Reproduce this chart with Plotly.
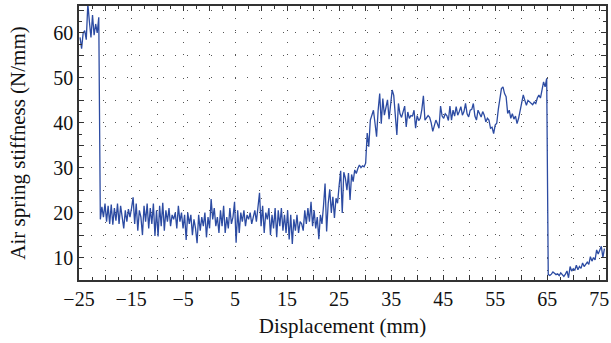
import numpy as np
import plotly.graph_objects as go

# Sampling grid of the measurement (displacement in mm)
x_start = -24.8
x_step = 0.3

# Air spring stiffness (N/mm), in sample order
stiffness = [
    # -24.8 .. -21.2
    59.0, 56.5, 60.0, 60.5, 58.5, 66.5, 62.5, 59.0, 64.0, 59.5, 62.0, 60.0, 63.5,
    # -20.9 ..
    18.5, 21.3, 19.0, 22.0, 18.0, 21.5, 17.5, 21.8, 17.3, 21.0,
    18.2, 22.0, 17.5, 21.5, 19.0, 16.5, 20.5, 18.0, 20.8, 19.0,
    21.0, 23.4, 17.5, 22.0, 16.0, 20.5, 19.0, 15.0, 21.5, 18.0,
    22.0, 16.5, 21.0, 17.5, 22.0, 14.8, 20.5, 14.7, 21.5, 17.0,
    22.2, 16.0, 20.5, 18.0, 21.0, 17.0, 19.5, 18.5, 20.0, 16.5,
    21.5, 18.0, 20.0, 16.5, 19.5, 13.9, 20.0, 17.5, 19.5, 15.0,
    18.5, 16.5, 13.2, 19.5, 16.0, 19.0, 17.0, 20.0, 14.5, 19.0,
    16.5, 23.0, 18.5, 21.0, 17.0, 19.0, 15.5, 20.5, 17.0, 21.5,
    15.5, 19.0, 16.5, 21.0, 17.5, 19.0, 22.4, 13.3, 20.5, 15.5,
    20.0, 18.0, 20.5, 17.0, 19.5, 18.5, 20.0, 17.5, 19.0, 20.5,
    18.0, 21.0, 24.4, 17.0, 21.5, 15.5, 20.0, 18.5, 21.0, 15.0,
    19.5, 16.5, 21.0, 14.5, 20.5, 17.0, 21.0, 16.0, 19.5, 15.5,
    20.5, 14.0, 19.5, 13.0, 18.5, 16.0, 19.5, 15.5, 18.0, 17.5,
    16.0, 20.5, 17.5, 21.0, 18.0, 22.4, 17.0, 20.5, 16.5, 19.0,
    14.1, 19.5, 17.5, 21.5, 26.5, 15.8, 22.0, 25.2, 20.0, 23.5,
    18.8, 23.2, 22.1, 26.0, 29.3, 19.9, 29.0, 27.7, 25.0, 28.8,
    22.8, 28.5, 26.9, 29.5, 28.7, 29.8, 30.6, 30.0, 30.4, 30.2,
    31.0, 37.7, 34.7, 40.6, 41.5, 42.8, 39.9, 36.9, 42.8, 46.5,
    39.8, 45.4, 41.7, 43.5, 45.1, 40.8, 44.0, 47.3, 46.1, 41.7,
    37.3, 44.3, 42.0, 41.2, 42.5, 43.7, 39.1, 42.4, 41.0, 41.6,
    41.5, 42.8, 38.8, 41.6, 40.5, 41.0, 43.0, 46.0, 40.6, 41.0,
    41.6, 41.2, 40.0, 38.1, 39.5, 40.6, 39.8, 38.8, 43.7, 41.5,
    41.0, 42.0, 41.6, 40.5, 43.7, 40.6, 42.8, 41.5, 43.6, 41.7,
    42.5, 43.6, 41.7, 42.5, 44.3, 42.0, 41.3, 42.8, 43.0, 44.3,
    41.5, 40.6, 42.8, 42.0, 41.3, 42.5, 41.7, 40.2, 41.0, 40.6,
    38.8, 39.0, 37.6, 39.5, 39.9, 43.0, 45.0, 47.6, 48.0, 46.5,
    45.8, 42.1, 42.8, 41.0, 42.0, 40.8, 41.5, 39.8, 41.0, 42.8,
    45.0, 46.2, 45.0, 43.9, 45.0, 44.6, 44.3, 44.0, 44.6, 44.3,
    45.5, 46.2, 45.5, 47.0, 49.1, 48.0, 49.9,
    # 65.2 ..
    6.2, 6.0, 6.3, 6.8, 6.5, 6.2, 6.4, 6.0, 6.6, 6.3,
    5.8, 6.3, 7.0, 5.5, 8.0, 7.0, 7.5, 7.2, 8.3, 7.3,
    8.0, 7.6, 8.8, 8.0, 8.6, 9.0, 8.5, 10.2, 9.2, 10.0,
    9.5, 11.7, 10.8, 11.5, 12.5, 10.0, 12.0,
]

displacement = x_start + x_step * np.arange(len(stiffness))

x_tick_vals = [-25, -20, -15, -10, -5, 0, 5, 10, 15, 20, 25, 30, 35, 40, 45, 50, 55, 60, 65, 70, 75]
x_tick_text = ["\u221225", "", "\u221215", "", "\u22125", "", "5", "", "15", "", "25", "",
               "35", "", "45", "", "55", "", "65", "", "75"]
y_tick_vals = [10, 15, 20, 25, 30, 35, 40, 45, 50, 55, 60, 65]
y_tick_text = ["10", "", "20", "", "30", "", "40", "", "50", "", "60", ""]

font_family = "Liberation Serif"
axis_color = "#333333"
grid_color = "#555555"

fig = go.Figure()
fig.add_trace(go.Scatter(
    x=displacement, y=stiffness, mode="lines",
    line=dict(color="#2c4ba2", width=1.3),
    showlegend=False,
))

common = dict(
    showline=True, mirror="allticks", linecolor=axis_color, linewidth=1.5,
    ticks="inside", ticklen=5, tickwidth=1, tickcolor=axis_color,
    showgrid=True, gridcolor=grid_color, gridwidth=1, griddash="1px,11px",
    zeroline=False, automargin=False,
    tickfont=dict(family=font_family, size=20, color="#111111"),
)

fig.update_xaxes(
    range=[-25, 76.3], tickmode="array", tickvals=x_tick_vals, ticktext=x_tick_text,
    minor=dict(tickmode="linear", tick0=-25, dtick=2.5, ticks="inside", ticklen=3,
               tickcolor=axis_color, showgrid=False),
    title=dict(text="Displacement (mm)", font=dict(family=font_family, size=21, color="#111111"),
               standoff=10),
    **common,
)
fig.update_yaxes(
    range=[5, 66], tickmode="array", tickvals=y_tick_vals, ticktext=y_tick_text,
    minor=dict(tickmode="linear", tick0=5, dtick=2.5, ticks="inside", ticklen=3,
               tickcolor=axis_color, showgrid=False),
    title=dict(text="Air spring stiffness (N/mm)", font=dict(family=font_family, size=21, color="#111111"),
               standoff=22),
    **common,
)

fig.update_layout(
    width=611, height=343,
    margin=dict(l=79, r=5, t=6, b=63),
    paper_bgcolor="white", plot_bgcolor="white",
)

fig.write_html("out.html", config={"displayModeBar": False},
               post_script="document.body.style.margin='0';")
